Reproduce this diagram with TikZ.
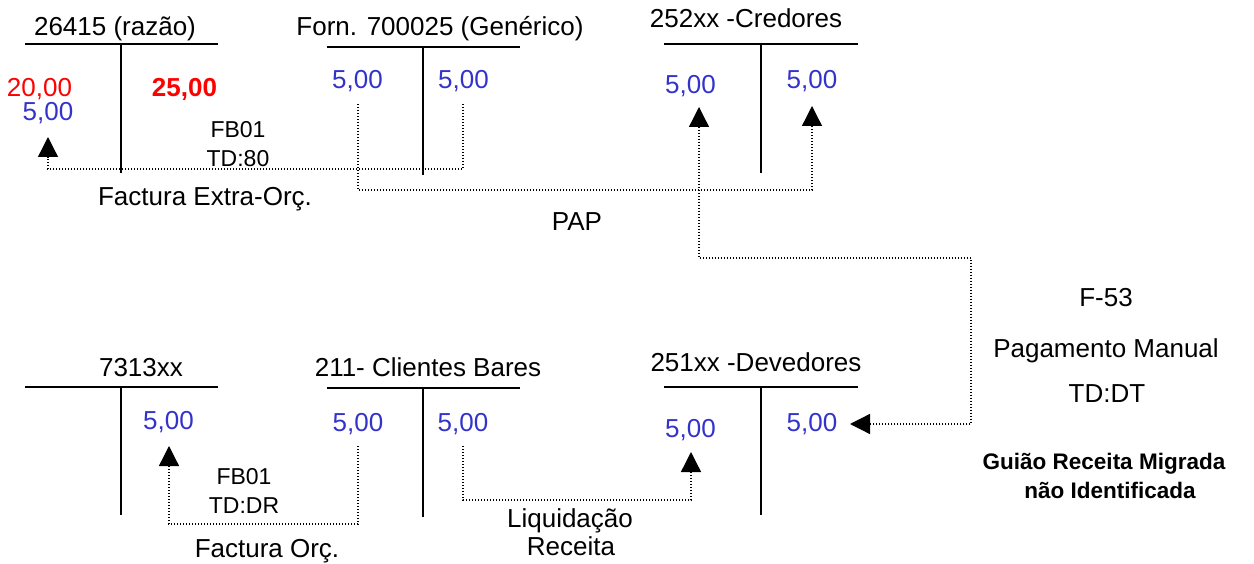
\documentclass[tikz,border=0pt]{standalone}
\usepackage{fontspec}
\setmainfont{Liberation Sans}
\usetikzlibrary{arrows.meta}
\definecolor{valblue}{RGB}{51,51,204}
\definecolor{valred}{RGB}{255,0,0}
\begin{document}
\begin{tikzpicture}[x=1pt,y=-1pt,
  tline/.style={line width=2pt},
  lbl/.style={inner sep=0pt, anchor=base, font=\fontsize{26}{30}\selectfont},
  val/.style={lbl, text=valblue},
  redval/.style={lbl, text=valred},
  small/.style={inner sep=0pt, anchor=base, font=\fontsize{23}{27}\selectfont},
  boldlbl/.style={inner sep=0pt, anchor=base, font=\fontsize{22.5}{27}\selectfont\bfseries},
  link/.style={line width=1.3pt, dash pattern=on 1.3pt off 1.7pt},
  tip/.tip={Triangle[width=20pt 0 0,length=20pt 0 0]},
  arr/.style={link, -tip},
  darr/.style={link, tip-tip}]
\useasboundingbox (0,0) rectangle (1254,564);

% ---- T-account 1: 26415 (razao)
\node[lbl] (t1title) at (115,36) {26415 (razão)};
\draw[tline] (25,44) coordinate (t1l) -- (218,44) coordinate (t1r);
\draw[tline] (121,44) coordinate (t1top) -- (121,173) coordinate (t1bot);
\node[redval] (t1a) at (39.5,97) {20,00};
\node[val] (t1b) at (48,121) {5,00};
\node[redval, font=\fontsize{26}{30}\selectfont\bfseries] (t1c) at (184.5,97) {25,00};

% ---- T-account 2: Forn.
\node[lbl] (t2title) at (440,36) {Forn. 700025 (Genérico)};
\draw[tline] (327,47) coordinate (t2l) -- (520,47) coordinate (t2r);
\draw[tline] (423,47) coordinate (t2top) -- (423,175) coordinate (t2bot);
\node[val] (t2a) at (357.5,89) {5,00};
\node[val] (t2b) at (463.5,89) {5,00};

% ---- T-account 3: 252xx -Credores
\node[lbl] (t3title) at (746,28) {252xx -Credores};
\draw[tline] (664,44) coordinate (t3l) -- (858,44) coordinate (t3r);
\draw[tline] (761,44) coordinate (t3top) -- (761,173) coordinate (t3bot);
\node[val] (t3a) at (690.5,94) {5,00};
\node[val] (t3b) at (812,89) {5,00};

% ---- T-account 4: 7313xx
\node[lbl] (t4title) at (141,377) {7313xx};
\draw[tline] (25,387) coordinate (t4l) -- (218,387) coordinate (t4r);
\draw[tline] (121,387) coordinate (t4top) -- (121,515) coordinate (t4bot);
\node[val] (t4b) at (168.5,429) {5,00};

% ---- T-account 5: 211- Clientes Bares
\node[lbl] (t5title) at (428,377) {211- Clientes Bares};
\draw[tline] (327,388) coordinate (t5l) -- (520,388) coordinate (t5r);
\draw[tline] (423,388) coordinate (t5top) -- (423,517) coordinate (t5bot);
\node[val] (t5a) at (358,431) {5,00};
\node[val] (t5b) at (463,431) {5,00};

% ---- T-account 6: 251xx -Devedores
\node[lbl] (t6title) at (756,371) {251xx -Devedores};
\draw[tline] (664,387) coordinate (t6l) -- (858,387) coordinate (t6r);
\draw[tline] (761,387) coordinate (t6top) -- (761,515) coordinate (t6bot);
\node[val] (t6a) at (690.5,437) {5,00};
\node[val] (t6b) at (812,431) {5,00};

% ---- connector end points
\coordinate (s1) at (463,104);   % below Forn. right value
\coordinate (e1) at (48,137);    % arrow under 26415 5,00
\coordinate (s2) at (358,104);   % below Forn. left value
\coordinate (e2) at (812,106);   % arrow under 252xx right value
\coordinate (e3a) at (699,107);  % arrow under 252xx left value
\coordinate (k3) at (971,258);
\coordinate (e3b) at (850,424);  % arrow right of 251xx right value
\coordinate (s4) at (358,446);   % below 211 left value
\coordinate (e4) at (169,446);   % arrow under 7313xx value
\coordinate (s5) at (463,446);   % below 211 right value
\coordinate (e5) at (691,452);   % arrow under 251xx left value

\draw[arr] (s1) -- ++(0,65) -| (e1);
\draw[arr] (s2) -- ++(0,86) -| (e2);
\draw[darr] (e3a) |- (k3) |- (e3b);
\draw[arr] (s4) -- ++(0,78) -| (e4);
\draw[arr] (s5) -- ++(0,54) -| (e5);

% ---- labels
\node[small] (fb1) at (238,138) {FB01};
\node[small] (td1) at (238,167) {TD:80};
\node[lbl] (fext) at (205,206) {Factura Extra-Orç.};
\node[lbl] (pap) at (577,231) {PAP};
\node[small] (fb2) at (244,484) {FB01};
\node[small] (td2) at (244,513) {TD:DR};
\node[lbl] (forc) at (267,557) {Factura Orç.};
\node[lbl] (liq) at (570,527) {Liquidação};
\node[lbl] (rec) at (571,555) {Receita};
\node[lbl] (f53) at (1106,307) {F-53};
\node[lbl] (pm) at (1106,357) {Pagamento Manual};
\node[lbl] (tddt) at (1107,402) {TD:DT};
\node[boldlbl] (g1) at (1104,469) {Guião Receita Migrada};
\node[boldlbl] (g2) at (1110,498) {não Identificada};
\end{tikzpicture}
\end{document}
